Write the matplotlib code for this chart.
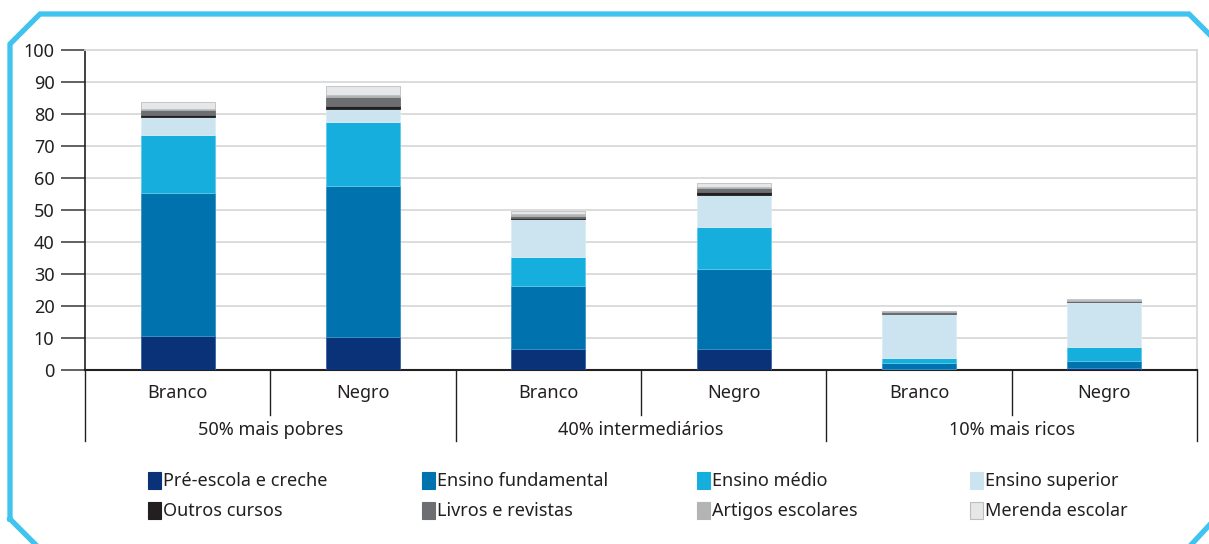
import matplotlib
matplotlib.use("Agg")
import matplotlib.pyplot as plt
import matplotlib.transforms as mtransforms
from matplotlib.patches import Rectangle
from matplotlib.lines import Line2D
import numpy as np

plt.rcParams['font.family'] = ['Noto Sans', 'DejaVu Sans']

# ---- data ----
categories = ["Branco", "Negro", "Branco", "Negro", "Branco", "Negro"]
groups = ["50% mais pobres", "40% intermediários", "10% mais ricos"]
series_names = ["Pré-escola e creche", "Ensino fundamental", "Ensino médio", "Ensino superior",
                "Outros cursos", "Livros e revistas", "Artigos escolares", "Merenda escolar"]
pre_escola = [10.7, 10.2, 6.5, 6.5, 0.4, 0.5]
fundamental = [44.7, 47.4, 19.7, 25.1, 1.9, 2.4]
medio = [18.0, 20.0, 9.0, 13.0, 1.55, 4.3]
superior = [5.8, 3.9, 11.9, 10.2, 13.55, 14.15]
outros = [0.6, 1.1, 0.4, 0.8, 0.1, 0.05]
livros = [1.4, 2.8, 0.7, 1.2, 0.6, 0.2]
artigos = [0.4, 0.5, 0.4, 0.4, 0.2, 0.4]
merenda = [2.2, 2.9, 1.0, 1.3, 0.1, 0.1]
yticks = list(range(0, 101, 10))

series = [pre_escola, fundamental, medio, superior, outros, livros, artigos, merenda]
colors = ["#0a3278", "#0072ae", "#15aedd", "#cbe4f0", "#231f20", "#6d6e71", "#b3b4b6", "#e6e7e8"]
edges = ["#3a62a0", "#3a94c8", "#5fcbec", "#dcedf6", "#231f20", "#6d6e71", "#b3b4b6", "#bcbec0"]

FS = 13

W, H = 1209, 544
fig = plt.figure(figsize=(W / 100, H / 100), dpi=100)
ax = fig.add_axes([85 / W, 1 - 370 / H, (1197 - 85) / W, (370 - 50) / H])

x = np.arange(len(categories))
bottom = np.zeros(len(categories))
for vals, c, e in zip(series, colors, edges):
    v = np.array(vals)
    ax.bar(x, v, width=0.4, bottom=bottom, color=c, edgecolor=e, linewidth=0.6, zorder=3)
    bottom += v

ax.set_xlim(-0.5, len(categories) - 0.5)
ax.set_ylim(0, 100)
ax.set_yticks(yticks)
ax.set_yticklabels([str(t) for t in yticks], fontsize=FS, color="#231f20")
ax.tick_params(axis='y', length=17, width=1.3, color="#555555", pad=5)
ax.set_xticks([])
ax.grid(axis='y', color="#d9d9d9", linewidth=1.3, zorder=0)
ax.set_axisbelow(True)
for s in ["top", "right"]:
    ax.spines[s].set_color("#d9d9d9")
    ax.spines[s].set_linewidth(1.3)
ax.spines["left"].set_color("#231f20")
ax.spines["left"].set_linewidth(1.2)
ax.spines["bottom"].set_color("#231f20")
ax.spines["bottom"].set_linewidth(1.5)

# category separators and labels below the axis
trans = mtransforms.blended_transform_factory(ax.transData, ax.transAxes)
inner_y = -(415 - 370) / 320
outer_y = -(441 - 370) / 320
n = len(categories)
for i in range(n + 1):
    xb = i - 0.5
    ylow = outer_y if i % 2 == 0 else inner_y
    ax.add_line(Line2D([xb, xb], [0, ylow], transform=trans, color="#231f20",
                       linewidth=1.0, clip_on=False))
for i, lab in enumerate(categories):
    ax.text(i, -(393 - 370) / 320, lab, transform=trans, ha="center", va="center",
            fontsize=FS, color="#231f20")
for g, lab in enumerate(groups):
    ax.text(2 * g + 0.5, -(430 - 370) / 320, lab, transform=trans, ha="center", va="center",
            fontsize=FS, color="#231f20")

# legend (manual layout)
col_x = [148, 422, 697, 970]
row_y = [481, 511]
for k, (name, c) in enumerate(zip(series_names, colors)):
    r, cidx = divmod(k, 4)
    px, py = col_x[cidx], row_y[r]
    fig.add_artist(Rectangle((px / W, 1 - (py + 8) / H), 13 / W, 17 / H,
                             transform=fig.transFigure, facecolor=c,
                             edgecolor=edges[k] if k == 7 else c, linewidth=0.8))
    fig.text((px + 15) / W, 1 - py / H, name, ha="left", va="center",
             fontsize=FS, color="#231f20")

# cyan octagonal frame
pts = [(10, 519), (10, 44), (40, 14), (1189, 14), (1215, 40), (1215, 519), (1190, 546), (37, 546), (10, 519)]
fx = [p[0] / W for p in pts]
fy = [1 - p[1] / H for p in pts]
fig.add_artist(Line2D(fx, fy, transform=fig.transFigure, color="#40c4ef", linewidth=3.8,
                      solid_joinstyle="miter"))

fig.savefig("out.png", dpi=100)
